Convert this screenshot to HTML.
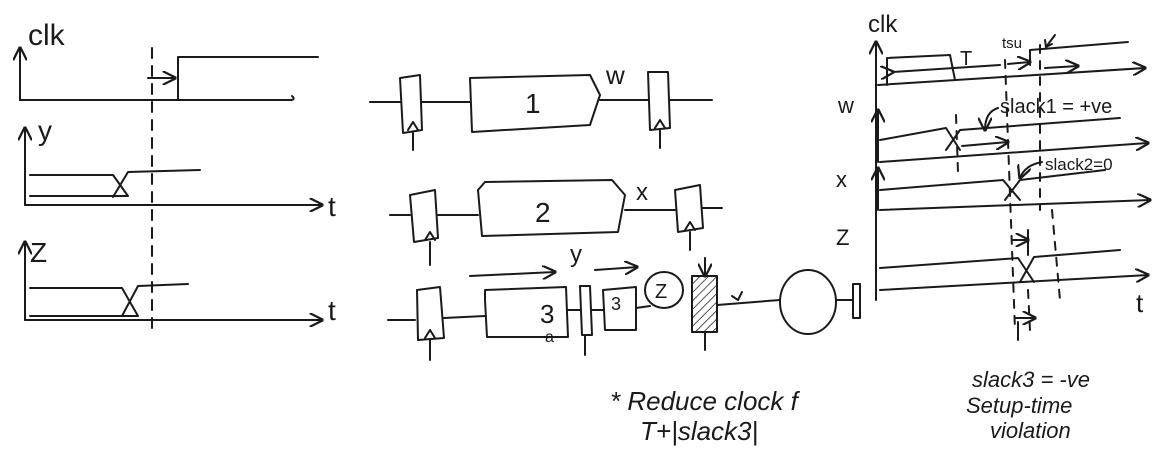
<!DOCTYPE html>
<html><head><meta charset="utf-8"><style>
html,body{margin:0;padding:0;background:#fff;}
svg{display:block}
text{font-family:"Liberation Sans",sans-serif;fill:#1a1a1a;}
</style></head><body>
<svg width="1162" height="471" viewBox="0 0 1162 471" stroke="#1a1a1a" stroke-width="2" fill="none" stroke-linecap="round" stroke-linejoin="round">
<defs><marker id="ah" viewBox="0 0 10 10" refX="9" refY="5" markerWidth="7" markerHeight="7" orient="auto"><path d="M0,0 L10,5 L0,10" fill="none" stroke="#1a1a1a" stroke-width="1.6"/></marker>
<pattern id="hatch" width="6" height="6" patternUnits="userSpaceOnUse" patternTransform="rotate(45)"><line x1="0" y1="0" x2="0" y2="6" stroke="#1a1a1a" stroke-width="1.5"/></pattern></defs>

<!-- LEFT PANEL -->
<g>
<text x="28" y="45" font-size="30" stroke="none">clk</text>
<line x1="20" y1="100" x2="20" y2="48" marker-end="url(#ah)"/>
<path d="M20,100 L290,100 Q296,100 292,96"/>
<path d="M20,100 L178,100 L178,57 L318,57"/>
<path d="M148,78 L175,78" marker-end="url(#ah)"/>
</g>
<line x1="152" y1="48" x2="152" y2="335" stroke-dasharray="10,8"/>
<g>
<text x="38" y="140" font-size="28" stroke="none">y</text>
<line x1="25" y1="205" x2="25" y2="128" marker-end="url(#ah)"/>
<line x1="25" y1="205" x2="322" y2="205" marker-end="url(#ah)"/>
<text x="328" y="216" font-size="28" stroke="none">t</text>
<path d="M30,175 L113,175 L128,196 L30,196"/>
<path d="M113,197 L128,172 L200,170"/>
</g>
<g>
<text x="30" y="262" font-size="28" stroke="none">Z</text>
<line x1="25" y1="320" x2="25" y2="242" marker-end="url(#ah)"/>
<line x1="25" y1="320" x2="322" y2="320" marker-end="url(#ah)"/>
<text x="328" y="320" font-size="28" stroke="none">t</text>
<path d="M30,288 L122,288 L138,316 L30,316"/>
<path d="M122,316 L138,286 L188,284"/>
</g>

<!-- MIDDLE: CIRCUITS -->
<g>
<line x1="370" y1="102" x2="400" y2="102"/>
<path d="M400,78 L420,75 L422,130 L403,133 Z"/>
<path d="M413,133 L413,150"/><path d="M408,130 L413,122 L418,130"/>
<line x1="422" y1="102" x2="470" y2="102"/>
<path d="M470,78 L590,75 L600,95 L590,125 L472,132 Z"/>
<text x="525" y="113" font-size="28" stroke="none">1</text>
<line x1="600" y1="100" x2="648" y2="100"/>
<text x="606" y="84" font-size="26" stroke="none">w</text>
<path d="M648,72 L668,72 L670,128 L650,130 Z"/>
<path d="M660,130 L660,148"/><path d="M655,128 L660,120 L665,128"/>
<line x1="670" y1="100" x2="712" y2="100"/>
</g>
<g>
<line x1="390" y1="215" x2="410" y2="215"/>
<path d="M410,195 L435,190 L438,238 L414,242 Z"/>
<path d="M430,242 L430,265"/><path d="M425,240 L430,232 L435,240"/>
<line x1="438" y1="215" x2="478" y2="215"/>
<path d="M478,190 L485,182 L612,180 L625,195 L618,232 L482,236 Z"/>
<text x="535" y="222" font-size="28" stroke="none">2</text>
<line x1="625" y1="210" x2="675" y2="210"/>
<text x="636" y="200" font-size="24" stroke="none">x</text>
<path d="M675,190 L700,185 L703,228 L678,232 Z"/>
<path d="M690,232 L690,250"/><path d="M685,230 L690,222 L695,230"/>
<line x1="703" y1="208" x2="722" y2="208"/>
</g>
<g>
<line x1="388" y1="320" x2="415" y2="320"/>
<path d="M417,290 L440,287 L444,338 L418,340 Z"/>
<path d="M430,340 L430,360"/><path d="M425,338 L430,330 L435,338"/>
<line x1="444" y1="318" x2="485" y2="316"/>
<path d="M485,300 L485,290 L566,287 L568,337 L487,337 Z"/>
<text x="540" y="323" font-size="26" stroke="none">3</text>
<text x="545" y="342" font-size="16" stroke="none">a</text>
<line x1="568" y1="310" x2="580" y2="310"/>
<path d="M580,286 L590,286 L592,335 L582,335 Z"/>
<line x1="585" y1="335" x2="585" y2="355"/>
<line x1="592" y1="310" x2="603" y2="310"/>
<path d="M603,290 L636,287 L636,330 L605,330 Z"/>
<text x="611" y="310" font-size="18" stroke="none">3</text>
<line x1="636" y1="308" x2="650" y2="306"/>
<ellipse cx="664" cy="290" rx="19" ry="18"/>
<text x="655" y="298" font-size="20" stroke="none">Z</text>
<rect x="692" y="276" width="25" height="56" fill="url(#hatch)"/>
<line x1="705" y1="332" x2="705" y2="350"/>
<line x1="705" y1="258" x2="705" y2="276" marker-end="url(#ah)"/>
<line x1="717" y1="305" x2="780" y2="300"/>
<path d="M742,292 L738,300 L732,296"/>
<ellipse cx="808" cy="302" rx="28" ry="32"/>
<line x1="836" y1="300" x2="853" y2="300"/>
<rect x="853" y="284" width="7" height="34"/>
<line x1="470" y1="276" x2="555" y2="272" marker-end="url(#ah)"/>
<line x1="595" y1="270" x2="637" y2="267" marker-end="url(#ah)"/>
<text x="570" y="262" font-size="24" stroke="none">y</text>
<text x="610" y="410" font-size="26" stroke="none" font-style="italic">* Reduce clock f</text>
<text x="640" y="440" font-size="26" stroke="none" font-style="italic">T+|slack3|</text>
</g>

<!-- RIGHT PANEL -->
<g>
<text x="868" y="32" font-size="24" stroke="none">clk</text>
<line x1="876" y1="300" x2="876" y2="42" marker-end="url(#ah)"/>
<path d="M878,85 L1145,68" marker-end="url(#ah)"/>
<path d="M887,85 L887,58 L950,55 L955,80"/>
<path d="M893,72 L1000,65" marker-start="url(#ah)"/>
<text x="960" y="65" font-size="20" stroke="none">T</text>
<path d="M1030,65 L1030,50 L1128,42"/>
<text x="1002" y="48" font-size="15" stroke="none">tsu</text>
<path d="M1046,47 L1055,35"/><path d="M1045,40 L1046,47 L1052,44"/>
<line x1="1008" y1="64" x2="1030" y2="62" marker-end="url(#ah)"/>
<line x1="1045" y1="68" x2="1078" y2="66" marker-end="url(#ah)"/>

<text x="838" y="113" font-size="22" stroke="none">w</text>
<line x1="878" y1="162" x2="878" y2="110" marker-end="url(#ah)"/>
<path d="M880,162 L1148,143" marker-end="url(#ah)"/>
<path d="M880,140 L946,128 L960,150"/>
<path d="M946,150 L960,130 L1120,118"/>
<line x1="962" y1="146" x2="1008" y2="142" marker-end="url(#ah)"/>
<path d="M998,108 Q985,112 985,130" marker-end="url(#ah)"/>
<text x="1000" y="113" font-size="20" stroke="none">slack1 = +ve</text>

<text x="836" y="187" font-size="22" stroke="none">x</text>
<line x1="878" y1="210" x2="878" y2="168" marker-end="url(#ah)"/>
<path d="M880,210 L1150,200" marker-end="url(#ah)"/>
<path d="M880,190 L1003,180 L1020,200"/>
<path d="M1005,200 L1020,180 L1105,170"/>
<path d="M1042,162 Q1025,165 1020,178" marker-end="url(#ah)"/>
<text x="1045" y="170" font-size="17" stroke="none">slack2=0</text>

<text x="836" y="245" font-size="22" stroke="none">Z</text>
<path d="M880,290 L1148,275" marker-end="url(#ah)"/>
<path d="M880,268 L1018,258 L1034,282"/>
<path d="M1020,282 L1034,257 L1120,250"/>
<line x1="1028" y1="230" x2="1028" y2="255"/>
<line x1="1012" y1="240" x2="1028" y2="240" marker-end="url(#ah)"/>
<text x="1136" y="312" font-size="26" stroke="none">t</text>
<line x1="1015" y1="318" x2="1035" y2="318" marker-end="url(#ah)"/>
<path d="M1018,322 L1018,340"/>
<text x="972" y="387" font-size="22" stroke="none" font-style="italic">slack3 = -ve</text>
<text x="966" y="413" font-size="22" stroke="none" font-style="italic">Setup-time</text>
<text x="990" y="438" font-size="22" stroke="none" font-style="italic">violation</text>
</g>
<g stroke-dasharray="8,8">
<line x1="1005" y1="60" x2="1015" y2="330"/>
<line x1="1040" y1="45" x2="1040" y2="210"/>
<line x1="1052" y1="210" x2="1060" y2="300"/>
<line x1="1028" y1="290" x2="1030" y2="330"/>
<line x1="956" y1="115" x2="958" y2="172"/>
</g>
</svg>
</body></html>
